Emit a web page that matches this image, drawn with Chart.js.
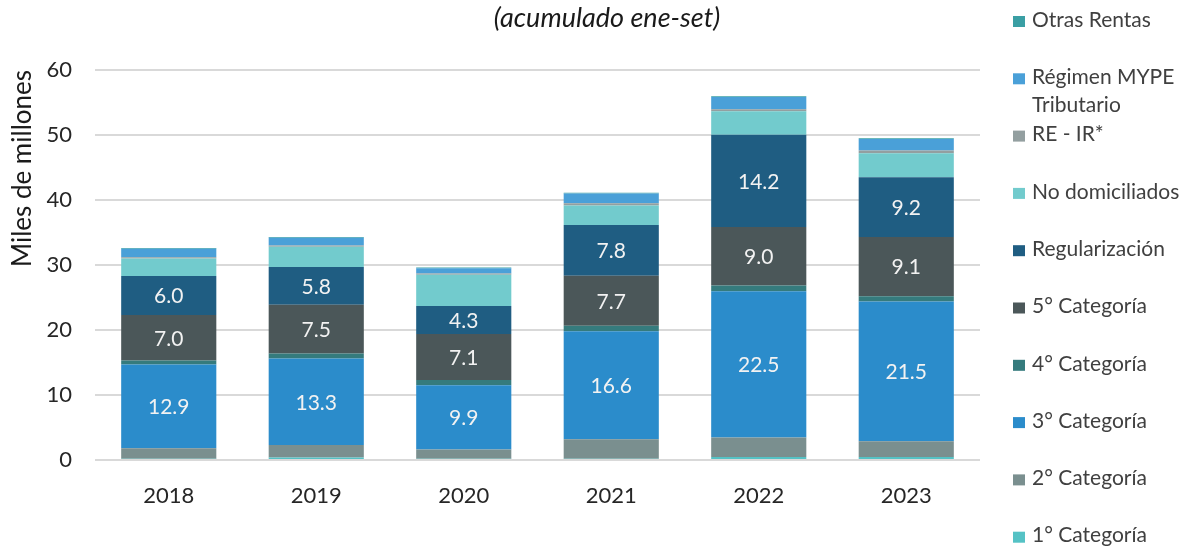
<!DOCTYPE html>
<html>
<head>
<meta charset="utf-8">
<script src="https://cdn.jsdelivr.net/npm/chart.js@4/dist/chart.umd.min.js"></script>
<style>
  html, body { margin: 0; padding: 0; background: #ffffff; }
  #wrap { width: 1186px; height: 546px; position: relative; }
</style>
</head>
<body>
<div id="wrap"><canvas id="c" width="1186" height="546"></canvas></div>
<script>
// ---- data (miles de millones) ----
const years = ['2018', '2019', '2020', '2021', '2022', '2023'];
const cat1 = [0.2, 0.4, 0.2, 0.2, 0.45, 0.45];
const cat2 = [1.6, 1.9, 1.4, 3.0, 3.0, 2.45];
const cat3 = [12.9, 13.3, 9.9, 16.6, 22.5, 21.5];
const cat4 = [0.6, 0.8, 0.8, 0.85, 0.9, 0.8];
const cat5 = [7.0, 7.5, 7.1, 7.7, 9.0, 9.1];
const regularizacion = [6.0, 5.8, 4.3, 7.8, 14.2, 9.2];
const noDomiciliados = [2.7, 3.1, 4.8, 3.0, 3.6, 3.7];
const reIr = [0.2, 0.2, 0.2, 0.35, 0.3, 0.4];
const mype = [1.3, 1.2, 0.8, 1.5, 1.9, 1.8];
const otrasRentas = [0.1, 0.1, 0.1, 0.1, 0.1, 0.1];
const yTicks = [0, 10, 20, 30, 40, 50, 60];

const seriesNames = ['1° Categoría', '2° Categoría', '3° Categoría', '4° Categoría', '5° Categoría',
  'Regularización', 'No domiciliados', 'RE - IR*', 'Régimen MYPE\nTributario', 'Otras Rentas'];
const seriesValues = [cat1, cat2, cat3, cat4, cat5, regularizacion, noDomiciliados, reIr, mype, otrasRentas];
const seriesColors = ['#55C2C5', '#7A8F8F', '#2B8CCB', '#357B7D', '#4B5759',
  '#1F5D82', '#72CBCD', '#939FA0', '#4AA0D8', '#3A9FA4'];
const labelled = ['3° Categoría', '5° Categoría', 'Regularización'];

const FONT = 'Lato, "Open Sans", sans-serif';

const datasets = seriesNames.map((name, i) => ({
  label: name,
  data: seriesValues[i],
  backgroundColor: seriesColors[i],
  borderWidth: 0,
  categoryPercentage: 1.0,
  barPercentage: 0.645
}));

const extras = {
  id: 'extras',
  afterDatasetsDraw(chart) {
    const ctx = chart.ctx;
    ctx.save();
    // value labels
    ctx.font = '21px ' + FONT;
    ctx.fillStyle = '#F2F2F2';
    ctx.textAlign = 'center';
    ctx.textBaseline = 'middle';
    chart.data.datasets.forEach((ds, di) => {
      if (!labelled.includes(ds.label)) return;
      const meta = chart.getDatasetMeta(di);
      meta.data.forEach((el, i) => {
        const yc = (el.y + el.base) / 2;
        ctx.fillText(ds.data[i].toFixed(1), el.x, yc + 1);
      });
    });
    // title
    ctx.font = 'italic 27px ' + FONT;
    ctx.fillStyle = '#1a1a1a';
    ctx.fillText('(acumulado ene-set)', 607, 18);
    // legend (reverse order)
    ctx.textAlign = 'left';
    ctx.font = '21px ' + FONT;
    const n = chart.data.datasets.length;
    for (let k = 0; k < n; k++) {
      const di = n - 1 - k;
      const ds = chart.data.datasets[di];
      const yc = 20 + k * 57.3;
      ctx.fillStyle = ds.backgroundColor;
      ctx.fillRect(1013, yc - 4, 12, 11);
      ctx.fillStyle = '#404040';
      const lines = ds.label.split('\n');
      lines.forEach((ln, li) => ctx.fillText(ln, 1032, yc + li * 28));
    }
    ctx.restore();
  }
};

new Chart(document.getElementById('c'), {
  type: 'bar',
  data: { labels: years, datasets },
  options: {
    responsive: false,
    animation: false,
    devicePixelRatio: 1,
    layout: { padding: { top: 70, right: 206, bottom: 0, left: 0 } },
    plugins: { legend: { display: false }, tooltip: { enabled: false }, title: { display: false } },
    scales: {
      x: {
        stacked: true,
        grid: { display: false, drawTicks: false },
        border: { display: false },
        ticks: { color: '#262626', font: { family: FONT, size: 22 }, padding: 23 },
        afterFit(scale) { scale.height = 86; }
      },
      y: {
        stacked: true,
        min: 0, max: 60,
        afterBuildTicks(scale) { scale.ticks = yTicks.map(v => ({ value: v })); },
        grid: { color: '#D9D9D9', lineWidth: 2, drawTicks: false },
        border: { display: false },
        ticks: { color: '#262626', font: { family: FONT, size: 22 }, padding: 23 },
        title: {
          display: true, text: 'Miles de millones', align: 'end',
          color: '#1a1a1a', font: { family: FONT, size: 26 },
          padding: { top: 7, bottom: 0 }
        },
        afterFit(scale) { scale.width = 95; }
      }
    }
  },
  plugins: [extras]
});
</script>
</body>
</html>
